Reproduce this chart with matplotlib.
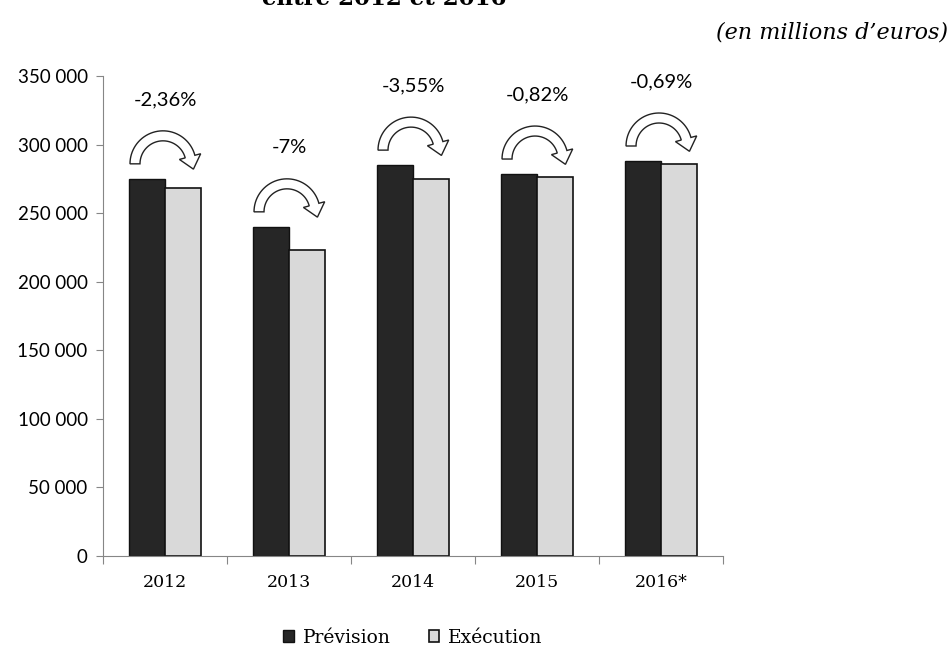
import matplotlib.pyplot as plt
import matplotlib.transforms as transforms
import numpy as np
from matplotlib.patches import Polygon

# budget figures by year (millions of euros)
years = ["2012", "2013", "2014", "2015", "2016*"]
prevision = [275000, 240000, 285000, 278500, 288000]
execution = [268500, 223200, 274900, 276200, 286000]
ecarts = ["-2,36%", "-7%", "-3,55%", "-0,82%", "-0,69%"]

sansFont = ["Lato", "DejaVu Sans"]
serifFont = ["DejaVu Serif"]


# hollow curved arrow outline, in pixels around the arc centre
def curvedArrow(R=33, r=23, endAngle=15, headExtra=6, headLength=13):
    t = np.radians(np.linspace(180, endAngle, 40))
    outer = np.column_stack([R*np.cos(t), R*np.sin(t)])
    inner = np.column_stack([r*np.cos(t), r*np.sin(t)])[::-1]
    te = np.radians(endAngle)
    radial = np.array([np.cos(te), np.sin(te)])
    tangent = np.array([np.sin(te), -np.cos(te)])
    mid = (R + r)/2*radial
    head = [(R + headExtra)*radial, mid + headLength*tangent, (r - headExtra)*radial]
    return np.vstack([outer, head, inner])


fig = plt.figure(figsize=(9.51, 6.46), dpi=100)
ax = fig.add_axes([0.1083, 0.1393, 0.652, 0.7431])

x = np.arange(len(years))
width = 0.29
ax.bar(x - width/2, prevision, width, color="#262626", edgecolor="#111111", linewidth=1, label="Prévision")
ax.bar(x + width/2, execution, width, color="#d9d9d9", edgecolor="#111111", linewidth=1.2, label="Exécution")

arrowShape = curvedArrow()
for i in range(len(years)):
    # arrow sits just above the forecast bar of each year
    trans = fig.dpi_scale_trans + transforms.ScaledTranslation(x[i], prevision[i], ax.transData)
    pts = (arrowShape + [-2, 15]) / fig.dpi
    ax.add_patch(Polygon(pts, closed=True, transform=trans, facecolor="white",
                         edgecolor="#222222", linewidth=1.0, zorder=5, clip_on=False))
    ax.annotate(ecarts[i], (x[i], prevision[i]), xytext=(0, 79), textcoords="offset pixels",
                ha="center", va="center", fontsize=14.5, family=sansFont)

ax.set_xlim(-0.5, 4.5)
ax.set_ylim(0, 350000)
ax.set_yticks(np.arange(0, 350001, 50000))
ax.set_yticklabels(["{:,}".format(v).replace(",", " ") for v in range(0, 350001, 50000)],
                   fontsize=13.5, family=sansFont)

# ticks between categories, labels centred under each group
ax.set_xticks(np.arange(-0.5, 5, 1))
ax.set_xticklabels([])
ax.set_xticks(x, minor=True)
ax.set_xticklabels(years, minor=True, fontsize=12.5, family=serifFont)
ax.tick_params(axis="x", which="major", length=6, color="#868686")
ax.tick_params(axis="x", which="minor", length=0, pad=13)
ax.tick_params(axis="y", length=5, color="#868686", pad=6)

for side in ["top", "right"]:
    ax.spines[side].set_visible(False)
for side in ["left", "bottom"]:
    ax.spines[side].set_color("#868686")

fig.text(0.404, 1 - 5/646, "entre 2012 et 2016", ha="center", va="baseline",
         fontsize=16.5, fontweight="bold", family=serifFont)
fig.text(0.997, 1 - 33/646, "(en millions d\u2019euros)", ha="right", va="center",
         fontsize=16, style="italic", family=serifFont)

ax.legend(loc="center", bbox_to_anchor=(0.5, -0.17), ncol=2, frameon=False,
          prop={"family": serifFont, "size": 13.5}, handlelength=0.55, handleheight=0.55,
          handletextpad=0.5, columnspacing=2.0)

plt.savefig("out.png", dpi=100)
